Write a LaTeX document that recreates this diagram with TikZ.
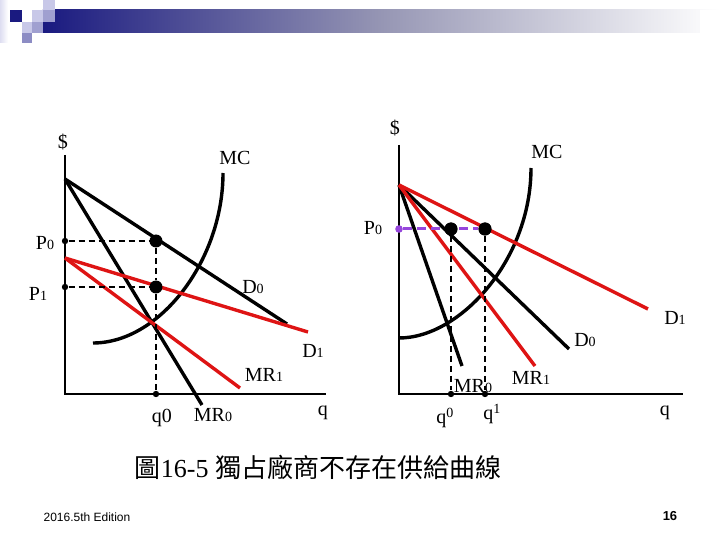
\documentclass[tikz,border=0pt]{standalone}
\usepackage{fontspec}
\setmainfont{Liberation Serif}
\newfontfamily\cjkfont{Noto Sans CJK TC}
\newfontfamily\arialfont{Liberation Sans}
\newcommand\lsub[1]{{\fontsize{7}{7}\selectfont #1}}
\newcommand\lsup[1]{\raisebox{0.7ex}{\fontsize{7}{7}\selectfont #1}}
\definecolor{navy}{RGB}{26,26,128}
\definecolor{lavA}{RGB}{200,200,232}
\definecolor{lavB}{RGB}{160,160,208}
\definecolor{lavC}{RGB}{140,140,196}
\definecolor{myred}{RGB}{222,20,20}
\definecolor{mypurple}{RGB}{150,70,220}
\tikzset{
  axis/.style={draw=black, line width=0.8pt},
  blk/.style={draw=black, line width=1.7pt},
  redl/.style={draw=myred, line width=1.7pt},
  mccurve/.style={draw=black, line width=1.7pt},
  guide/.style={draw=black, line width=0.9pt, dash pattern=on 3pt off 2pt},
  pguide/.style={draw=mypurple, line width=1.5pt, dash pattern=on 4.5pt off 2.5pt},
  bigdot/.style={circle, fill=black, inner sep=0pt, minimum size=6.5pt},
  smalldot/.style={circle, fill=black, inner sep=0pt, minimum size=3.2pt},
  pdot/.style={circle, fill=mypurple, inner sep=0pt, minimum size=3.8pt},
  lbl/.style={font=\fontsize{10}{10}\selectfont, inner sep=0pt},
}
\begin{document}
\begin{tikzpicture}[x=0.5pt, y=-0.5pt]
\useasboundingbox (0,0) rectangle (720,540);
% header
\shade[left color=navy, right color=white, middle color={rgb,255:red,150;green,150;blue,180}] (43,10) rectangle (720,33);
\fill[white] (700,10) rectangle (720,33);
\shade[left color=lavA!60, right color=white] (0,0) rectangle (8,43);
\fill[navy] (10,10) rectangle (22,22);
\fill[lavA] (32,10) rectangle (43,22);
\fill[lavB] (43,10) rectangle (55,22);
\fill[lavA] (43,0) rectangle (55,10);
\fill[lavA] (22,22) rectangle (32,33);
\fill[lavB] (32,22) rectangle (43,33);
\fill[lavC] (22,33) rectangle (32,43);

% ===== left graph =====
\coordinate (LO) at (65,394);
\coordinate (LY) at (65,155);
\coordinate (LX) at (326,394);
\draw[axis] (LY) -- (LO) -- (LX);
\coordinate (LA) at (65,179);
\coordinate (LB) at (65,258);
\coordinate (LD0) at (287,324);
\coordinate (LMR0) at (202,405);
\coordinate (LD1) at (308,332);
\coordinate (LMR1) at (240,388);
\coordinate (LMCa) at (93,343);
\coordinate (LMCb) at (223,173);
\draw[mccurve] (LMCa) .. controls (160,343) and (223,260) .. (LMCb);
\draw[blk] (LA) -- (LD0);
\draw[blk] (LA) -- (LMR0);
\draw[redl] (LB) -- (LD1);
\draw[redl] (LB) -- (LMR1);
\node[smalldot] (LP0) at (65,241) {};
\node[smalldot] (LP1) at (65,287) {};
\node[smalldot] (Lq0) at (156,394) {};
\node[bigdot] (LE0) at (156,241) {};
\node[bigdot] (LE1) at (156,287) {};
\draw[guide] (LP0) -- (LE0);
\draw[guide] (LP1) -- (LE1);
\draw[guide] (LE0) -- (LE1) -- (Lq0);
\node[lbl] (Ldol) at (63,142) {\$};
\node[lbl] (LMC) at (235,158) {MC};
\node[lbl] (LP0t) at (45,243) {P\lsub{0}};
\node[lbl] (LP1t) at (38,294) {P\lsub{1}};
\node[lbl] (LD0t) at (253,287) {D\lsub{0}};
\node[lbl] (LD1t) at (313,351) {D\lsub{1}};
\node[lbl] (LMR1t) at (264,375) {MR\lsub{1}};
\node[lbl] (Lq0t) at (162,418) {q0};
\node[lbl] (LMR0t) at (213,415) {MR\lsub{0}};
\node[lbl] (Lqt) at (323,413) {q};

% ===== right graph =====
\coordinate (RO) at (399,394);
\coordinate (RY) at (399,145);
\coordinate (RX) at (683,394);
\draw[axis] (RY) -- (RO) -- (RX);
\coordinate (RA) at (399,185);
\coordinate (RD1) at (648,309);
\coordinate (RD0) at (569,349);
\coordinate (RMR1) at (535,366);
\coordinate (RMR0) at (462,366);
\coordinate (RMCa) at (399,338);
\coordinate (RMCb) at (531,168);
\draw[mccurve] (RMCa) .. controls (460,338) and (531,260) .. (RMCb);
\draw[blk] (RA) -- (RMR0);
\draw[blk] (RA) -- (RD0);
\draw[redl] (RA) -- (RMR1);
\draw[redl] (RA) -- (RD1);
\node[pdot] (RP0) at (399,229) {};
\node[bigdot] (RE0) at (451,229) {};
\node[bigdot] (RE1) at (485,229) {};
\node[smalldot] (Rq0) at (451,394) {};
\node[smalldot] (Rq1) at (485,394) {};
\draw[pguide] (RP0) -- (RE1);
\draw[guide] (RE0) -- (Rq0);
\draw[guide] (RE1) -- (Rq1);
\node[bigdot] at (RE0) {};
\node[bigdot] at (RE1) {};
\node[lbl] (Rdol) at (395,128) {\$};
\node[lbl] (RMC) at (547,152) {MC};
\node[lbl] (RP0t) at (373,228) {P\lsub{0}};
\node[lbl] (RD1t) at (675,318) {D\lsub{1}};
\node[lbl] (RD0t) at (585,340) {D\lsub{0}};
\node[lbl] (RMR1t) at (531,378) {MR\lsub{1}};
\node[lbl] (RMR0t) at (473,386) {MR\lsub{0}};
\node[lbl] (Rq0t) at (445,418) {q\lsup{0}};
\node[lbl] (Rq1t) at (492,414) {q\lsup{1}};
\node[lbl] (Rqt) at (665,413) {q};

% caption and footer
\node[font=\fontsize{13}{13}\selectfont, inner sep=0pt] (cap) at (318,467) {{\cjkfont 圖}16-5 {\cjkfont 獨占廠商不存在供給曲線}};
\node[font=\arialfont\fontsize{6}{6}\selectfont, inner sep=0pt] (foot) at (87,517) {2016.5th Edition};
\node[font=\arialfont\bfseries\fontsize{6.5}{6.5}\selectfont, inner sep=0pt] (pg) at (670,516) {16};
\end{tikzpicture}
\end{document}
